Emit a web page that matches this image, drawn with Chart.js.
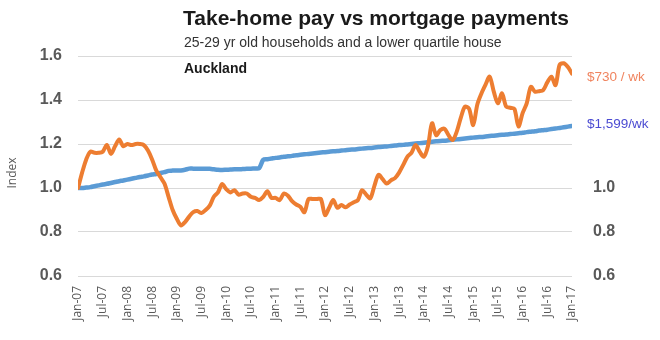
<!DOCTYPE html>
<html>
<head>
<meta charset="utf-8">
<script src="https://cdn.jsdelivr.net/npm/chart.js@4"></script>
<style>
  html, body { margin: 0; padding: 0; background: #fff; }
  #wrap { position: relative; width: 660px; height: 340px; }
</style>
</head>
<body>
<div id="wrap"><canvas id="c" width="660" height="340"></canvas></div>
<script>
// Tick labels (every 6 months, Jan-07 .. Jan-17)
const tickLabels = ['Jan-07','Jul-07','Jan-08','Jul-08','Jan-09','Jul-09','Jan-10','Jul-10','Jan-11','Jul-11',
  'Jan-12','Jul-12','Jan-13','Jul-13','Jan-14','Jul-14','Jan-15','Jul-15','Jan-16','Jul-16','Jan-17'];

// Monthly index values, Jan-07 .. Jan-17 (121 months)
const takeHomePay = [
  1.000,1.070,1.130,1.165,1.160,1.160,1.165,1.196,1.155,1.190,1.220,1.190,
  1.200,1.195,1.200,1.200,1.195,1.170,1.130,1.080,1.050,1.020,0.960,0.900,
  0.860,0.830,0.845,0.870,0.890,0.895,0.886,0.900,0.920,0.960,0.980,1.018,
  0.995,0.980,0.990,0.970,0.975,0.975,0.960,0.955,0.945,0.960,0.985,0.955,
  0.955,0.945,0.975,0.965,0.940,0.925,0.915,0.890,0.950,0.950,0.950,0.950,
  0.877,0.910,0.945,0.910,0.923,0.912,0.925,0.935,0.945,0.990,0.970,0.953,
  1.010,1.060,1.040,1.020,1.035,1.045,1.070,1.105,1.142,1.160,1.196,1.165,
  1.142,1.190,1.294,1.240,1.263,1.270,1.240,1.218,1.256,1.320,1.370,1.360,
  1.286,1.380,1.430,1.470,1.506,1.438,1.385,1.430,1.370,1.365,1.360,1.280,
  1.340,1.385,1.460,1.438,1.440,1.445,1.480,1.506,1.468,1.560,1.567,1.550,
  1.520
];
const mortgagePayments = [
  1.000,1.000,1.002,1.004,1.008,1.012,1.016,1.019,1.023,1.027,1.031,1.034,
  1.038,1.042,1.046,1.050,1.053,1.057,1.061,1.064,1.068,1.072,1.078,1.079,
  1.080,1.080,1.083,1.088,1.088,1.088,1.088,1.088,1.087,1.085,1.083,1.082,
  1.083,1.084,1.085,1.085,1.086,1.087,1.088,1.089,1.090,1.128,1.131,1.134,
  1.137,1.139,1.142,1.144,1.146,1.149,1.151,1.153,1.155,1.157,1.159,1.161,
  1.163,1.165,1.167,1.168,1.170,1.172,1.174,1.175,1.177,1.179,1.181,1.182,
  1.184,1.186,1.188,1.189,1.191,1.193,1.195,1.196,1.198,1.200,1.202,1.204,
  1.206,1.208,1.210,1.212,1.214,1.215,1.217,1.219,1.221,1.223,1.225,1.227,
  1.229,1.231,1.232,1.234,1.236,1.238,1.240,1.242,1.243,1.245,1.247,1.249,
  1.251,1.254,1.256,1.258,1.261,1.263,1.265,1.268,1.270,1.273,1.276,1.279,
  1.282
];
const yTicks = [0.6, 0.8, 1.0, 1.2, 1.4, 1.6];

const toPoints = arr => arr.map((v, i) => ({ x: i, y: v }));

const textPlugin = {
  id: 'texts',
  afterDraw(chart) {
    const ctx = chart.ctx;
    ctx.save();
    ctx.textBaseline = 'alphabetic';
    ctx.textAlign = 'left';
    ctx.fillStyle = '#1a1a1a';
    ctx.font = 'bold 21px "Liberation Sans", Arial, sans-serif';
    ctx.fillText('Take-home pay vs mortgage payments', 183, 25);
    ctx.fillStyle = '#333333';
    ctx.font = '14px "Liberation Sans", Arial, sans-serif';
    ctx.fillText('25-29 yr old households and a lower quartile house', 184, 47);
    ctx.fillStyle = '#1a1a1a';
    ctx.font = 'bold 14px "Liberation Sans", Arial, sans-serif';
    ctx.fillText('Auckland', 184, 73);
    ctx.textBaseline = 'middle';
    ctx.font = '13.5px "Liberation Sans", Arial, sans-serif';
    ctx.fillStyle = '#f0845f';
    ctx.fillText('$730 / wk', 587, 77);
    ctx.fillStyle = '#4b4bd2';
    ctx.fillText('$1,599/wk', 587, 124);
    // axis title
    ctx.translate(13, 173);
    ctx.rotate(-Math.PI / 2);
    ctx.textAlign = 'center';
    ctx.fillStyle = '#595959';
    ctx.font = '12px "Open Sans", sans-serif';
    ctx.fillText('Index', 0, 0);
    ctx.restore();
  }
};

const yTickFont = { family: '"Liberation Sans", Arial, sans-serif', size: 16, weight: 'bold' };

new Chart(document.getElementById('c'), {
  type: 'line',
  data: {
    datasets: [
      { label: 'Take-home pay', data: toPoints(takeHomePay), borderColor: '#ED7D31', borderWidth: 4,
        pointRadius: 0, tension: 0.3, yAxisID: 'y', borderCapStyle: 'round', borderJoinStyle: 'round' },
      { label: 'Mortgage payments', data: toPoints(mortgagePayments), borderColor: '#5B9BD5', borderWidth: 4.5,
        pointRadius: 0, tension: 0.3, yAxisID: 'y', borderCapStyle: 'round', borderJoinStyle: 'round' }
    ]
  },
  options: {
    responsive: false,
    animation: false,
    layout: { padding: { top: 56, bottom: 0, left: 0, right: 0 } },
    plugins: { legend: { display: false }, tooltip: { enabled: false } },
    scales: {
      x: {
        type: 'linear', min: 0, max: 120,
        afterFit: s => { s.height = 64; },
        afterBuildTicks: s => { s.ticks = tickLabels.map((_, i) => ({ value: i * 6 })); },
        ticks: {
          autoSkip: false, minRotation: 90, maxRotation: 90, padding: 2,
          color: '#595959', font: { family: '"Open Sans", sans-serif', size: 12 },
          callback: v => tickLabels[Math.round(v / 6)]
        },
        grid: { display: false },
        border: { display: false }
      },
      y: {
        position: 'left', min: 0.6, max: 1.6,
        afterFit: s => { s.width = 78; },
        afterBuildTicks: s => { s.ticks = yTicks.map(v => ({ value: v })); },
        ticks: { padding: 16, color: '#595959', font: yTickFont, callback: v => v.toFixed(1) },
        grid: { color: '#d9d9d9', lineWidth: 1, drawTicks: false },
        border: { display: false }
      },
      y2: {
        position: 'right', min: 0.6, max: 1.6,
        afterFit: s => { s.width = 88; },
        afterBuildTicks: s => { s.ticks = yTicks.map(v => ({ value: v })); },
        ticks: { padding: 21, color: '#595959', font: yTickFont,
          callback: v => (v <= 1.0001 ? v.toFixed(1) : '') },
        grid: { display: false, drawTicks: false },
        border: { display: false }
      }
    }
  },
  plugins: [textPlugin]
});
</script>
</body>
</html>
